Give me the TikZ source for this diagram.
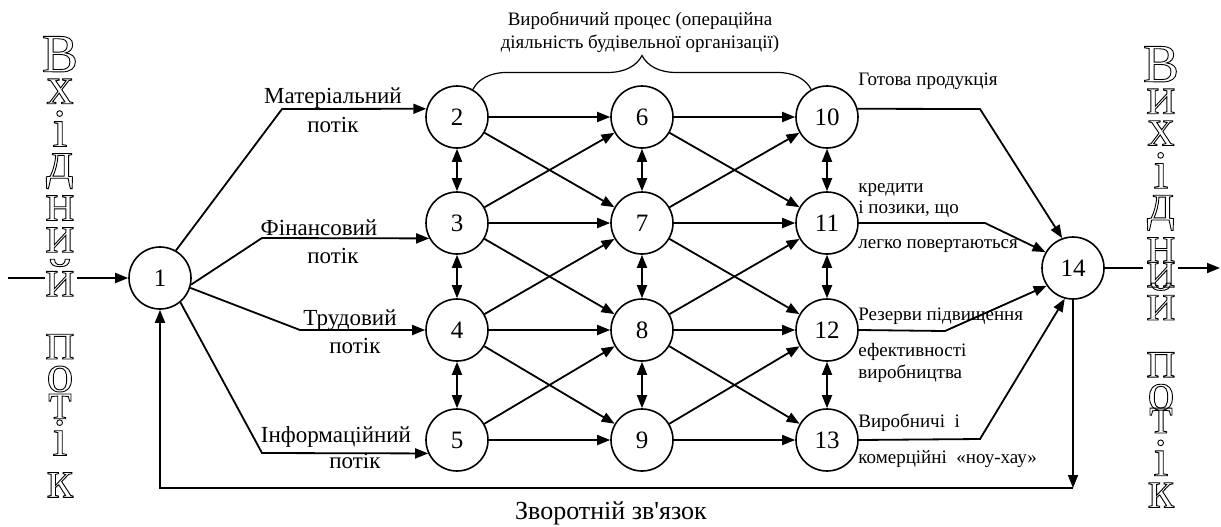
\documentclass[tikz,border=0pt]{standalone}
\usepackage{fontspec}
\setmainfont{Liberation Serif}
\usetikzlibrary{arrows.meta,decorations.pathreplacing}

% hollow (outlined) letters, stacked one under another
\newcommand{\hollowstack}[1]{\special{pdf:literal direct 1 Tr 0.45 w}%
  \vbox{\baselineskip=0pt\lineskip=3.5pt\lineskiplimit=0pt\halign{\hfil##\hfil\cr#1\crcr}}%
  \special{pdf:literal direct 0 Tr}}

\tikzset{
  stage/.style={circle, draw, line width=0.8pt, minimum size=31pt, inner sep=0pt, font=\fontsize{12.5}{14}\selectfont},
  flow/.style={line width=0.9pt, -{Triangle[length=6.5pt,width=5pt]}},
  link/.style={line width=0.9pt, {Triangle[length=6.5pt,width=5pt]}-{Triangle[length=6.5pt,width=5pt]}},
  lbl/.style={font=\fontsize{11.5}{13}\selectfont, anchor=base, inner sep=0pt},
  rlbl/.style={font=\fontsize{9.5}{11}\selectfont, anchor=base west, inner sep=0pt},
  word/.style={anchor=north, inner sep=0pt, font=\fontsize{27}{30}\selectfont},
}

\begin{document}
\begin{tikzpicture}[x=0.5pt,y=0.5pt]
\useasboundingbox (0,0) rectangle (1221,-526);

\node[stage] (n1) at (160,-278) {1};

\node[stage] (n2) at (457,-117) {2};
\node[stage] (n3) at (457,-223) {3};
\node[stage] (n4) at (457,-330) {4};
\node[stage] (n5) at (457,-440) {5};

\node[stage] (n6) at (642,-117) {6};
\node[stage] (n7) at (642,-223) {7};
\node[stage] (n8) at (642,-330) {8};
\node[stage] (n9) at (642,-440) {9};

\node[stage] (n10) at (827,-117) {10};
\node[stage] (n11) at (827,-223) {11};
\node[stage] (n12) at (827,-330) {12};
\node[stage] (n13) at (827,-440) {13};

\node[stage] (n14) at (1073,-268) {14};

% flows into the process
\coordinate (k2) at (282,-109);
\coordinate (k3) at (262,-238);
\coordinate (k4) at (300,-330);
\coordinate (k5) at (262,-453);
\draw[flow] (n1.60) -- (k2) -- (n2.165);
\draw[flow] (n1.-12) -- (k3) -- (n3.209);
\draw[flow] (n1.-18) -- (k4) -- (n4.west);
\draw[flow] (n1.-50) -- (k5) -- (n5.205);

\node[lbl] (mat) at (333,-103) {Матеріальний};
\node[lbl] (matp) at (333,-132) {потік};
\node[lbl] (fin) at (319,-235) {Фінансовий};
\node[lbl] (finp) at (333,-263) {потік};
\node[lbl] (trud) at (350,-325) {Трудовий};
\node[lbl] (trudp) at (355,-353) {потік};
\node[lbl] (inf) at (336,-442) {Інформаційний};
\node[lbl] (infp) at (355,-468) {потік};

% process network
\draw[flow] (n2) -- (n6);
\draw[flow] (n2) -- (n7);
\draw[flow] (n3) -- (n6);
\draw[flow] (n3) -- (n7);
\draw[flow] (n3) -- (n8);
\draw[flow] (n4) -- (n7);
\draw[flow] (n4) -- (n8);
\draw[flow] (n4) -- (n9);
\draw[flow] (n5) -- (n8);
\draw[flow] (n5) -- (n9);

\draw[flow] (n6) -- (n10);
\draw[flow] (n6) -- (n11);
\draw[flow] (n7) -- (n10);
\draw[flow] (n7) -- (n11);
\draw[flow] (n7) -- (n12);
\draw[flow] (n8) -- (n11);
\draw[flow] (n8) -- (n12);
\draw[flow] (n8) -- (n13);
\draw[flow] (n9) -- (n12);
\draw[flow] (n9) -- (n13);

\draw[link] (n2) -- (n3);
\draw[link] (n3) -- (n4);
\draw[link] (n4) -- (n5);
\draw[link] (n6) -- (n7);
\draw[link] (n7) -- (n8);
\draw[link] (n8) -- (n9);
\draw[link] (n10) -- (n11);
\draw[link] (n11) -- (n12);
\draw[link] (n12) -- (n13);

\draw[decorate, decoration={brace, amplitude=17pt}, line width=0.6pt] (n2.60) -- (n10.120);
\node[font=\fontsize{9.5}{11.5}\selectfont, align=center] (proc) at (640,-32) {Виробничий процес (операційна\\діяльність будівельної організації)};

% results
\coordinate (k10) at (980,-109);
\coordinate (k11) at (985,-223);
\coordinate (k12) at (945,-331);
\coordinate (k13) at (980,-439);
\draw[flow] (n10.15) -- (k10) -- (n14.110);
\draw[flow] (n11.east) -- (k11) -- (n14.150);
\draw[flow] (n12.east) -- (k12) -- (n14.214);
\draw[flow] (n13.east) -- (k13) -- (n14.255);

\node[rlbl] (prod) at (858,-85) {Готова продукція};
\node[rlbl] (kred) at (858,-192) {кредити};
\node[rlbl] (kred2) at (858,-213) {і позики, що};
\node[rlbl] (kred3) at (858,-248) {легко повертаються};
\node[rlbl] (rez) at (858,-320) {Резерви підвищення};
\node[rlbl] (rez2) at (858,-356) {ефективності};
\node[rlbl] (rez3) at (858,-378) {виробництва};
\node[rlbl] (know) at (858,-427) {Виробничі\ \ і};
\node[rlbl] (know2) at (858,-463) {комерційні\ \ «ноу-хау»};

% feedback
\coordinate (fb) at (1073,-488);
\draw[flow] (n14.south) -- (fb);
\draw[flow] (fb) -| (n1.south);
\node[lbl, font=\fontsize{13}{15}\selectfont] (back) at (611,-519) {Зворотній зв\textquotesingle язок};

% input
\node[word] (inword) at (60,-36) {\hollowstack{В\cr х\cr і\cr д\cr н\cr и\cr й\cr
  \noalign{\vskip15.5pt}п\cr о\cr \noalign{\vskip-2.5pt}т\cr \noalign{\vskip-3pt}і\cr \noalign{\vskip5pt}к}};
\coordinate (in0) at (8,-278);
\coordinate (inl) at (45,-278);
\coordinate (inr) at (77,-278);
\draw[line width=0.9pt] (in0) -- (inl);
\draw[flow] (inr) -- (n1);

% output
\node[word] (outword) at (1161,-46) {\hollowstack{В\cr и\cr х\cr і\cr д\cr н\cr \noalign{\vskip-3.5pt}и\cr \noalign{\vskip-5.5pt}й\cr
  \noalign{\vskip12.7pt}п\cr о\cr \noalign{\vskip-4.5pt}т\cr і\cr к}};
\coordinate (outl) at (1143,-268);
\coordinate (outr) at (1178,-268);
\coordinate (out0) at (1220,-268);
\draw[line width=0.9pt] (n14) -- (outl);
\draw[flow] (outr) -- (out0);
\end{tikzpicture}
\end{document}
